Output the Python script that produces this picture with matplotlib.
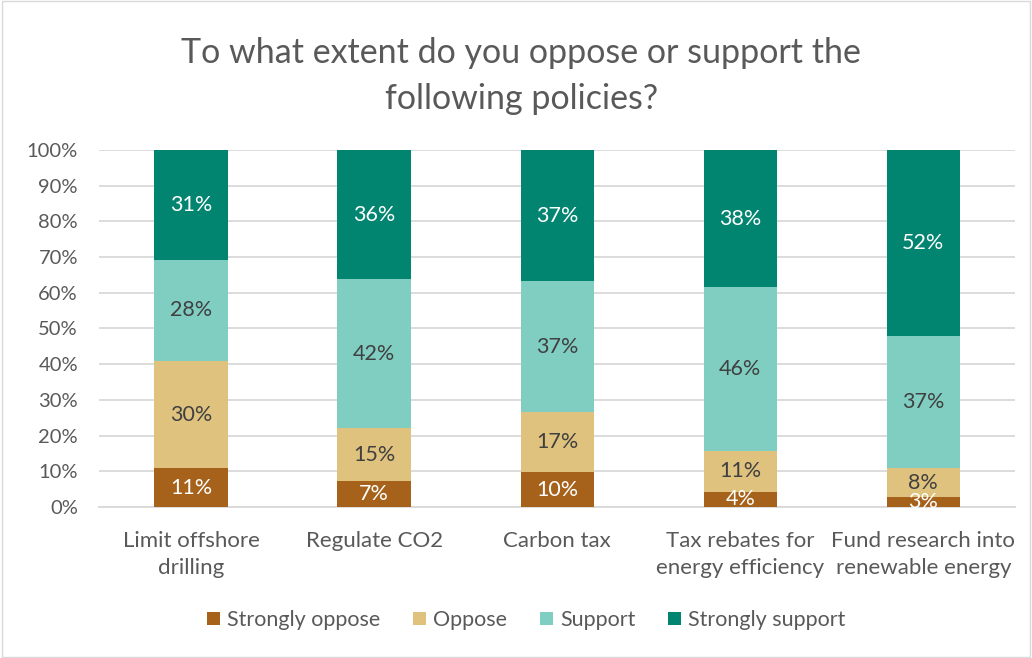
import matplotlib.pyplot as plt
from matplotlib.patches import Rectangle
import numpy as np

plt.rcParams['font.family'] = ['Lato', 'DejaVu Sans']

categories = ['Limit offshore\ndrilling', 'Regulate CO2', 'Carbon tax',
              'Tax rebates for\nenergy efficiency', 'Fund research into\nrenewable energy']
series_names = ['Strongly oppose', 'Oppose', 'Support', 'Strongly support']
strongly_oppose = [10.9, 7.4, 9.7, 4.3, 2.9]
oppose = [30.0, 14.6, 16.8, 11.4, 7.9]
support = [28.4, 41.8, 36.7, 45.9, 37.2]
strongly_support = [30.7, 36.2, 36.8, 38.4, 52.0]
colors = ['#A6611A', '#DFC27D', '#80CDC1', '#018571']
label_colors = ['white', '#404040', '#404040', 'white']

fig = plt.figure(figsize=(10.32, 6.58), dpi=100)
ax = fig.add_axes([0.0964, 0.2295, 0.887, 0.5426])

x = np.arange(len(categories))
bottom = np.zeros(len(categories))
for vals, name, col, lcol in zip([strongly_oppose, oppose, support, strongly_support],
                                 series_names, colors, label_colors):
    vals = np.array(vals)
    ax.bar(x, vals, 0.4, bottom=bottom, color=col, label=name, zorder=3)
    for xi, v, b in zip(x, vals, bottom):
        ax.text(xi, b + v / 2, f'{v:.0f}%', ha='center', va='center',
                color=lcol, fontsize=15.5, zorder=4)
    bottom += vals

ax.set_xlim(-0.5, len(categories) - 0.5)
ax.set_ylim(0, 100)
ax.set_yticks(range(0, 101, 10))
ax.set_yticklabels([f'{t}%' for t in range(0, 101, 10)])
ax.set_xticks(x)
ax.set_xticklabels(categories, linespacing=1.45)
ax.tick_params(axis='both', length=0, colors='#595959')
ax.tick_params(axis='x', pad=17, labelsize=16)
ax.tick_params(axis='y', pad=15.5, labelsize=14.5)
ax.grid(axis='y', color='#D9D9D9', linewidth=1.3, zorder=0)
for s in ['top', 'right', 'left']:
    ax.spines[s].set_visible(False)
ax.spines['bottom'].set_color('#D9D9D9')
ax.spines['bottom'].set_linewidth(1.3)

fig.text(0.505, 1 - 76 / 658, 'To what extent do you oppose or support the\nfollowing policies?',
         ha='center', va='center', fontsize=24.5, color='#595959', linespacing=1.55)

ax.legend(loc='center', bbox_to_anchor=(0.51, 1 - 620 / 658), bbox_transform=fig.transFigure,
          ncol=4, frameon=False, fontsize=15.5, labelcolor='#595959',
          handlelength=0.6, handleheight=0.6, handletextpad=0.35, columnspacing=1.5)

fig.patches.append(Rectangle((0.002, 0.002), 0.996, 0.996, transform=fig.transFigure,
                             fill=False, edgecolor='#D9D9D9', linewidth=1))

plt.savefig('out.png', dpi=100)
